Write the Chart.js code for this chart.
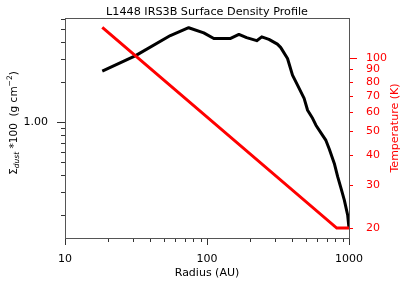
<!DOCTYPE html>
<html>
<head>
<meta charset="utf-8">
<script src="https://cdn.jsdelivr.net/npm/chart.js@4.4.1/dist/chart.umd.min.js"></script>
<style>
  html, body { margin: 0; padding: 0; background: #fff; }
  #wrap { width: 407px; height: 285px; }
</style>
</head>
<body>
<div id="wrap"><canvas id="js--profiel" width="407" height="285"></canvas></div>
<script>
// data
const radius = [18.3, 31.2, 55.2, 74.3, 94.9, 111.7, 146.6, 167.8, 190, 224, 243, 273, 313, 330, 369, 400, 434, 483, 511, 554, 585, 650, 688, 726, 788, 832, 878, 927, 979, 1000];
const sigma = [2.42, 3.15, 4.48, 5.13, 4.69, 4.26, 4.26, 4.57, 4.32, 4.10, 4.38, 4.19, 3.86, 3.65, 3.01, 2.26, 1.90, 1.51, 1.23, 1.07, 0.95, 0.80, 0.73, 0.63, 0.49, 0.39, 0.32, 0.26, 0.20, 0.16];
const tempRadius = [18.3, 820, 1000];
const temperature = [134, 20, 20];

const xTicks = [10, 20, 30, 40, 50, 60, 70, 80, 90, 100, 200, 300, 400, 500, 600, 700, 800, 900, 1000];
const xLabels = [10, 100, 1000];
const sigmaTicks = [0.2, 0.3, 0.4, 0.5, 0.6, 0.7, 0.8, 0.9, 1, 2, 3, 4, 5, 6];
const sigmaLabels = [1];
const tempTicks = [20, 30, 40, 50, 60, 70, 80, 90, 100];
const tempMajor = [100];

const ROOD = "rgb(255, 0, 0)";
Chart.defaults.font.family = "DejaVu Sans";
Chart.defaults.font.size = 11;

function zetTicks(lijst, major) {
    return function(scale) {
        scale.ticks = lijst.map(v => ({ value: v, major: major.includes(v) }));
    };
}

// vaste maten voor de assen, geen extra label-padding
function vastY(breedte) {
    return function(s) {
        s.width = breedte;
        s.paddingTop = 0;
        s.paddingBottom = 0;
    };
}

// tick marks, frame and titles
const extras = {
    id: "extras",
    afterDraw(chart) {
        const ctx = chart.ctx;
        const a = chart.chartArea;
        ctx.save();

        // tick marks
        ctx.lineWidth = 1;
        ctx.strokeStyle = "#333";
        chart.scales.x.ticks.forEach(t => {
            const px = Math.round(chart.scales.x.getPixelForValue(t.value)) + 0.5;
            ctx.beginPath();
            ctx.moveTo(px, a.bottom);
            ctx.lineTo(px, a.bottom + (t.major ? 7 : 4));
            ctx.stroke();
        });
        chart.scales.y.ticks.forEach(t => {
            const py = Math.round(chart.scales.y.getPixelForValue(t.value)) + 0.5;
            ctx.beginPath();
            ctx.moveTo(a.left, py);
            ctx.lineTo(a.left - (t.major ? 8 : 4), py);
            ctx.stroke();
        });
        ctx.strokeStyle = ROOD;
        chart.scales.yT.ticks.forEach(t => {
            const py = Math.round(chart.scales.yT.getPixelForValue(t.value)) + 0.5;
            ctx.beginPath();
            ctx.moveTo(a.right, py);
            ctx.lineTo(a.right + (t.major ? 8 : 4), py);
            ctx.stroke();
        });

        // frame
        ctx.strokeStyle = "#555";
        ctx.strokeRect(Math.round(a.left) + 0.5, Math.round(a.top) + 0.5, Math.round(a.right - a.left), Math.round(a.bottom - a.top));

        // title
        ctx.fillStyle = "#000";
        ctx.textAlign = "center";
        ctx.textBaseline = "alphabetic";
        ctx.font = "11.2px 'DejaVu Sans'";
        ctx.fillText("L1448 IRS3B Surface Density Profile", (a.left + a.right) / 2, 15);

        // x title
        ctx.font = "11px 'DejaVu Sans'";
        ctx.textBaseline = "middle";
        ctx.fillText("Radius (AU)", (a.left + a.right) / 2, 273);

        // right title
        ctx.save();
        ctx.translate(395, (a.top + a.bottom) / 2);
        ctx.rotate(-Math.PI / 2);
        ctx.fillStyle = ROOD;
        ctx.fillText("Temperature (K)", 0, 0);
        ctx.restore();

        // left title with sub- and superscript
        const stukken = [
            { t: "\u03A3", f: "10.5px 'DejaVu Sans'", dy: 0 },
            { t: "dust", f: "italic 7.5px 'DejaVu Sans'", dy: 3 },
            { t: " *100  (g cm", f: "10.5px 'DejaVu Sans'", dy: 0 },
            { t: "\u22122", f: "7.5px 'DejaVu Sans'", dy: -4 },
            { t: ")", f: "10.5px 'DejaVu Sans'", dy: 0 }
        ];
        let totaal = 0;
        stukken.forEach(s => { ctx.font = s.f; s.w = ctx.measureText(s.t).width; totaal += s.w; });
        ctx.save();
        ctx.translate(14, 123);
        ctx.rotate(-Math.PI / 2);
        ctx.textAlign = "left";
        let xx = -totaal / 2;
        stukken.forEach(s => {
            ctx.font = s.f;
            ctx.fillText(s.t, xx, s.dy);
            xx += s.w;
        });
        ctx.restore();

        ctx.restore();
    }
};

const config = {
    type: "line",
    data: {
        datasets: [{
            label: "Temperature",
            data: tempRadius.map((r, i) => ({ x: r, y: temperature[i] })),
            borderColor: ROOD,
            borderWidth: 3,
            pointRadius: 0,
            tension: 0,
            yAxisID: "yT"
        }, {
            label: "Surface density",
            data: radius.map((r, i) => ({ x: r, y: sigma[i] })),
            borderColor: "#000",
            borderWidth: 3,
            pointRadius: 0,
            tension: 0,
            borderJoinStyle: "round",
            yAxisID: "y"
        }]
    },
    options: {
        responsive: false,
        animation: false,
        layout: { padding: { top: 18, left: 0, right: 0, bottom: 0 } },
        plugins: {
            legend: { display: false },
            tooltip: { enabled: false }
        },
        scales: {
            x: {
                type: "logarithmic",
                position: "bottom",
                min: 10,
                max: 1000,
                afterBuildTicks: zetTicks(xTicks, xLabels),
                afterFit: s => { s.height = 47; s.paddingLeft = 0; s.paddingRight = 0; },
                grid: { display: false },
                border: { display: false },
                ticks: {
                    autoSkip: false,
                    maxRotation: 0,
                    padding: 7,
                    color: "#000",
                    callback: v => xLabels.includes(v) ? String(v) : ""
                }
            },
            y: {
                type: "logarithmic",
                position: "left",
                min: 0.135,
                max: 6.07,
                afterBuildTicks: zetTicks(sigmaTicks, sigmaLabels),
                afterFit: vastY(65),
                grid: { display: false },
                border: { display: false },
                ticks: {
                    autoSkip: false,
                    padding: 9,
                    color: "#000",
                    callback: v => sigmaLabels.includes(v) ? v.toFixed(2) : ""
                }
            },
            yT: {
                type: "logarithmic",
                position: "right",
                min: 18.2,
                max: 146.6,
                afterBuildTicks: zetTicks(tempTicks, tempMajor),
                afterFit: vastY(58),
                grid: { display: false },
                border: { display: false },
                ticks: {
                    autoSkip: false,
                    padding: 9,
                    color: ROOD,
                    callback: v => String(v)
                }
            }
        }
    },
    plugins: [extras]
};

const profielChart = new Chart(document.getElementById("js--profiel"), config);
</script>
</body>
</html>
